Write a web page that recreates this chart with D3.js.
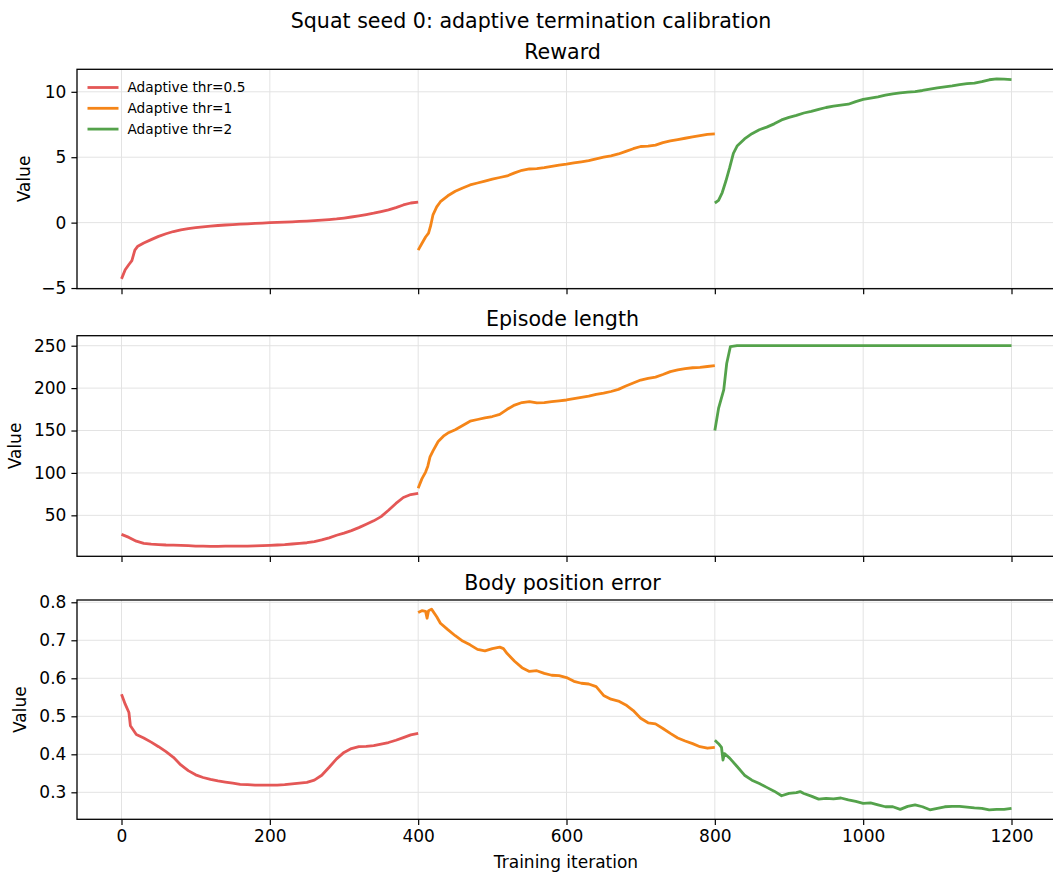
<!DOCTYPE html>
<html>
<head>
<meta charset="utf-8">
<script src="https://cdn.jsdelivr.net/npm/d3@7"></script>
<style>
  body { margin: 0; background: #fff; }
  svg { font-family: "DejaVu Sans", sans-serif; }
</style>
</head>
<body>
<div id="chart"></div>
<script>
// Series labels and colours
var seriesNames = ["Adaptive thr=0.5", "Adaptive thr=1", "Adaptive thr=2"];
var seriesColors = ["#e45756", "#f58518", "#54a24b"];

// Reward: [iteration, value]
var rewardThr05 = [[0,-4.3],[5,-3.6],[10,-3.2],[14,-2.9],[18,-2.1],[22,-1.8],[30,-1.55],[40,-1.3],[50,-1.05],[60,-0.85],[70,-0.68],[80,-0.55],[90,-0.45],[100,-0.38],[110,-0.32],[120,-0.27],[130,-0.22],[140,-0.18],[150,-0.15],[160,-0.12],[170,-0.09],[180,-0.06],[190,-0.03],[200,0.0],[210,0.02],[220,0.04],[230,0.06],[240,0.09],[250,0.12],[260,0.15],[270,0.19],[280,0.23],[290,0.28],[300,0.35],[310,0.43],[320,0.52],[330,0.62],[340,0.72],[350,0.85],[360,0.98],[370,1.15],[380,1.35],[390,1.5],[400,1.57]];
var rewardThr1 = [[400,-2.1],[405,-1.6],[410,-1.1],[414,-0.8],[417,-0.2],[420,0.6],[425,1.2],[430,1.6],[440,2.05],[450,2.4],[460,2.65],[470,2.88],[480,3.03],[490,3.18],[500,3.33],[510,3.45],[520,3.57],[530,3.8],[540,4.0],[550,4.1],[560,4.13],[570,4.2],[580,4.3],[590,4.4],[600,4.47],[610,4.57],[620,4.65],[630,4.74],[640,4.88],[650,5.0],[660,5.1],[670,5.25],[680,5.45],[690,5.65],[700,5.82],[710,5.85],[720,5.93],[730,6.12],[740,6.25],[750,6.35],[760,6.45],[770,6.55],[780,6.65],[790,6.75],[800,6.78]];
var rewardThr2 = [[800,1.5],[805,1.7],[810,2.3],[815,3.2],[820,4.2],[825,5.3],[830,5.85],[840,6.4],[850,6.8],[860,7.1],[870,7.3],[880,7.55],[890,7.85],[900,8.05],[910,8.2],[920,8.38],[930,8.5],[940,8.65],[950,8.8],[960,8.9],[970,8.98],[980,9.05],[990,9.25],[1000,9.42],[1010,9.52],[1020,9.62],[1030,9.75],[1040,9.85],[1050,9.92],[1060,9.97],[1070,10.02],[1080,10.1],[1090,10.2],[1100,10.3],[1110,10.38],[1120,10.45],[1130,10.55],[1140,10.62],[1150,10.67],[1160,10.78],[1170,10.92],[1180,10.98],[1190,10.97],[1200,10.93]];

// Episode length
var lengthThr05 = [[0,27.5],[10,24],[20,19.5],[30,17],[40,16],[50,15.5],[60,15],[70,14.8],[80,14.5],[90,14.2],[100,13.8],[110,13.6],[120,13.5],[130,13.5],[140,13.6],[150,13.7],[160,13.8],[170,13.8],[180,14],[190,14.3],[200,14.6],[210,15],[220,15.5],[230,16.2],[240,17],[250,17.7],[260,19],[270,21],[280,23.5],[290,26.5],[300,29],[310,32],[320,35.5],[330,39.5],[340,43.5],[350,48.5],[360,56],[370,64],[380,71],[390,74.5],[400,76]];
var lengthThr1 = [[400,82],[405,93],[410,101],[413,108],[416,119],[420,126],[427,137],[435,144],[440,147],[450,151],[460,156],[470,161],[480,163],[490,165],[500,166.5],[510,169],[520,175],[530,180],[540,183],[550,184],[560,182.5],[570,183],[580,184],[590,185],[600,186],[610,187.5],[620,189],[630,190.5],[640,192.5],[650,194],[660,196],[670,198.5],[680,202.5],[690,206],[700,209.5],[710,211.5],[720,213],[730,216],[740,219.5],[750,221.5],[760,223],[770,224],[780,224.5],[790,225.5],[800,226.5]];
var lengthThr2 = [[800,150],[805,176],[812,198],[816,229],[821,249],[830,250],[900,250],[1000,250],[1100,250],[1200,250]];

// Body position error
var errorThr05 = [[0,0.558],[5,0.532],[10,0.51],[12,0.475],[20,0.452],[30,0.443],[40,0.432],[50,0.42],[60,0.407],[70,0.392],[80,0.372],[90,0.357],[100,0.346],[110,0.339],[120,0.334],[130,0.33],[140,0.327],[150,0.324],[160,0.321],[170,0.32],[180,0.319],[190,0.319],[200,0.319],[210,0.319],[220,0.32],[230,0.322],[240,0.324],[250,0.326],[260,0.332],[270,0.345],[280,0.366],[290,0.388],[300,0.405],[310,0.415],[320,0.42],[330,0.421],[340,0.423],[350,0.427],[360,0.431],[370,0.437],[380,0.444],[390,0.451],[400,0.455]];
var errorThr1 = [[400,0.773],[405,0.778],[410,0.776],[412,0.758],[414,0.778],[418,0.782],[425,0.762],[430,0.745],[440,0.728],[450,0.712],[460,0.698],[470,0.688],[480,0.676],[490,0.672],[500,0.678],[510,0.682],[515,0.678],[520,0.665],[530,0.645],[540,0.628],[550,0.618],[560,0.62],[570,0.613],[580,0.608],[590,0.607],[600,0.602],[610,0.592],[620,0.587],[630,0.585],[640,0.578],[650,0.555],[660,0.545],[670,0.54],[680,0.53],[690,0.515],[700,0.495],[710,0.483],[720,0.48],[730,0.468],[740,0.455],[750,0.443],[760,0.435],[770,0.428],[780,0.42],[790,0.416],[800,0.418]];
var errorThr2 = [[800,0.437],[805,0.428],[809,0.418],[811,0.385],[813,0.402],[820,0.39],[830,0.368],[840,0.345],[850,0.332],[860,0.323],[870,0.313],[880,0.303],[890,0.291],[900,0.297],[910,0.299],[915,0.302],[920,0.297],[930,0.29],[940,0.282],[950,0.284],[960,0.283],[970,0.285],[980,0.28],[990,0.276],[1000,0.271],[1010,0.272],[1020,0.267],[1030,0.262],[1040,0.262],[1050,0.255],[1060,0.263],[1070,0.267],[1080,0.262],[1090,0.254],[1100,0.258],[1110,0.262],[1120,0.263],[1130,0.263],[1140,0.261],[1150,0.259],[1160,0.258],[1170,0.254],[1180,0.255],[1190,0.255],[1200,0.258]];

// Tick values
var xTicks = [0, 200, 400, 600, 800, 1000, 1200];
var rewardTicks = [-5, 0, 5, 10];
var lengthTicks = [50, 100, 150, 200, 250];
var errorTicks = [0.3, 0.4, 0.5, 0.6, 0.7, 0.8];

var svgWidth = 1053;
var svgHeight = 877;

var svg = d3.select("#chart")
  .append("svg")
  .attr("width", svgWidth)
  .attr("height", svgHeight);

var x = d3.scaleLinear().domain([-60, 1260]).range([77, 1056]);

var panels = [
  { title: "Reward", top: 69.3, bottom: 288.7, domain: [-5.05, 11.72], ticks: rewardTicks,
    fmt: d3.format("d"), series: [rewardThr05, rewardThr1, rewardThr2], labelX: 24, legend: true },
  { title: "Episode length", top: 335.7, bottom: 556.3, domain: [1.7, 261.8], ticks: lengthTicks,
    fmt: d3.format("d"), series: [lengthThr05, lengthThr1, lengthThr2], labelX: 15 },
  { title: "Body position error", top: 600, bottom: 819.3, domain: [0.229, 0.806], ticks: errorTicks,
    fmt: d3.format(".1f"), series: [errorThr05, errorThr1, errorThr2], labelX: 20, xLabels: true }
];

svg.append("text")
  .attr("x", 531)
  .attr("y", 27.5)
  .attr("text-anchor", "middle")
  .attr("font-size", "20.6px")
  .text("Squat seed 0: adaptive termination calibration");

panels.forEach(function(p) {
  var y = d3.scaleLinear().domain(p.domain).range([p.bottom, p.top]);
  var g = svg.append("g");

  // grid
  g.selectAll(".vgrid").data(xTicks).enter().append("line")
    .attr("x1", d => x(d)).attr("x2", d => x(d))
    .attr("y1", p.top).attr("y2", p.bottom)
    .attr("stroke", "#e3e3e3").attr("stroke-width", 1);
  g.selectAll(".hgrid").data(p.ticks).enter().append("line")
    .attr("x1", 77).attr("x2", 1056)
    .attr("y1", d => y(d)).attr("y2", d => y(d))
    .attr("stroke", "#e3e3e3").attr("stroke-width", 1);

  // lines
  var line = d3.line().x(d => x(d[0])).y(d => y(d[1]));
  p.series.forEach(function(s, i) {
    g.append("path")
      .datum(s)
      .attr("d", line)
      .attr("fill", "none")
      .attr("stroke", seriesColors[i])
      .attr("stroke-width", 2.8)
      .attr("stroke-linejoin", "round")
      .attr("stroke-linecap", "butt");
  });

  // axes
  var leftAxis = d3.axisLeft(y).tickValues(p.ticks).tickFormat(p.fmt).tickSize(5.6).tickPadding(5);
  var bottomAxis = d3.axisBottom(x).tickValues(xTicks).tickSize(5.6).tickPadding(5)
    .tickFormat(p.xLabels ? d3.format("d") : "");

  var la = g.append("g").attr("transform", "translate(77,0)").call(leftAxis);
  var ba = g.append("g").attr("transform", `translate(0,${p.bottom})`).call(bottomAxis);
  [la, ba].forEach(function(a) {
    a.select(".domain").remove();
    a.selectAll("line").attr("stroke", "#000").attr("stroke-width", 1.2);
    a.selectAll("text").attr("font-size", "17px").attr("font-family", "DejaVu Sans").attr("fill", "#000");
  });

  // frame
  g.append("rect")
    .attr("x", 77).attr("y", p.top)
    .attr("width", 1056 - 77).attr("height", p.bottom - p.top)
    .attr("fill", "none").attr("stroke", "#000").attr("stroke-width", 1.3);

  g.append("text")
    .attr("x", (77 + 1056) / 2 - 4)
    .attr("y", p.top - 10)
    .attr("text-anchor", "middle")
    .attr("font-size", "20.6px")
    .text(p.title);

  g.append("text")
    .attr("transform", `translate(${p.labelX},${(p.top + p.bottom) / 2}) rotate(-90)`)
    .attr("text-anchor", "middle")
    .attr("dy", "0.35em")
    .attr("font-size", "17px")
    .text("Value");

  if (p.legend) {
    var lg = g.append("g");
    seriesNames.forEach(function(name, i) {
      var ly = 87.5 + i * 20.8;
      lg.append("line")
        .attr("x1", 87.5).attr("x2", 118.5)
        .attr("y1", ly).attr("y2", ly)
        .attr("stroke", seriesColors[i]).attr("stroke-width", 2.8);
      lg.append("text")
        .attr("x", 127.5).attr("y", ly)
        .attr("dy", "0.35em")
        .attr("font-size", "13.7px")
        .text(name);
    });
  }

  if (p.xLabels) {
    g.append("text")
      .attr("x", 566)
      .attr("y", 868)
      .attr("text-anchor", "middle")
      .attr("font-size", "17px")
      .text("Training iteration");
  }
});
</script>
</body>
</html>
